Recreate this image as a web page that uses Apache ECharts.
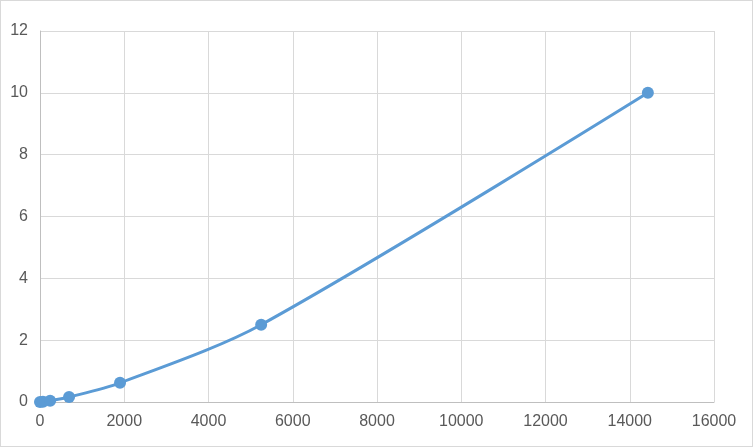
<!DOCTYPE html>
<html>
<head>
<meta charset="utf-8">
<script src="https://cdn.jsdelivr.net/npm/echarts@6/dist/echarts.min.js"></script>
<style>
html,body{margin:0;padding:0;background:#fff;}
#wrap{position:absolute;left:0;top:0;width:751px;height:445px;border:1px solid #d9d9d9;}
#chart{width:751px;height:445px;}
</style>
</head>
<body>
<div id="wrap"><div id="chart"></div></div>
<script>
const xValues = [0, 70, 240, 690, 1900, 5250, 14430];
const yValues = [0, 0.01, 0.04, 0.16, 0.62, 2.5, 10];
const xTicks = [0, 2000, 4000, 6000, 8000, 10000, 12000, 14000, 16000];
const yTicks = [0, 2, 4, 6, 8, 10, 12];

const chart = echarts.init(document.getElementById('chart'), null, {renderer: 'canvas'});
const labelStyle = {color: '#595959', fontFamily: 'Liberation Sans, Arial, sans-serif', fontSize: 16};
chart.setOption({
  animation: false,
  grid: {left: 39, right: 38, top: 30, bottom: 44, containLabel: false},
  xAxis: {
    type: 'value', min: xTicks[0], max: xTicks[xTicks.length - 1], interval: 2000,
    axisLine: {show: true, lineStyle: {color: '#bfbfbf', width: 1}},
    axisTick: {show: false},
    splitLine: {show: true, lineStyle: {color: '#d9d9d9', width: 1}},
    axisLabel: Object.assign({margin: 12, formatter: v => String(v)}, labelStyle)
  },
  yAxis: {
    type: 'value', min: yTicks[0], max: yTicks[yTicks.length - 1], interval: 2,
    axisLine: {show: true, lineStyle: {color: '#bfbfbf', width: 1}},
    axisTick: {show: false},
    splitLine: {show: true, lineStyle: {color: '#d9d9d9', width: 1}},
    axisLabel: Object.assign({margin: 12, formatter: v => String(v)}, labelStyle)
  },
  series: [{
    type: 'line',
    data: xValues.map((x, i) => [x, yValues[i]]),
    smooth: 0.3,
    symbol: 'circle',
    symbolSize: 12,
    lineStyle: {color: '#5b9bd5', width: 3},
    itemStyle: {color: '#5b9bd5'}
  }]
});
</script>
</body>
</html>
